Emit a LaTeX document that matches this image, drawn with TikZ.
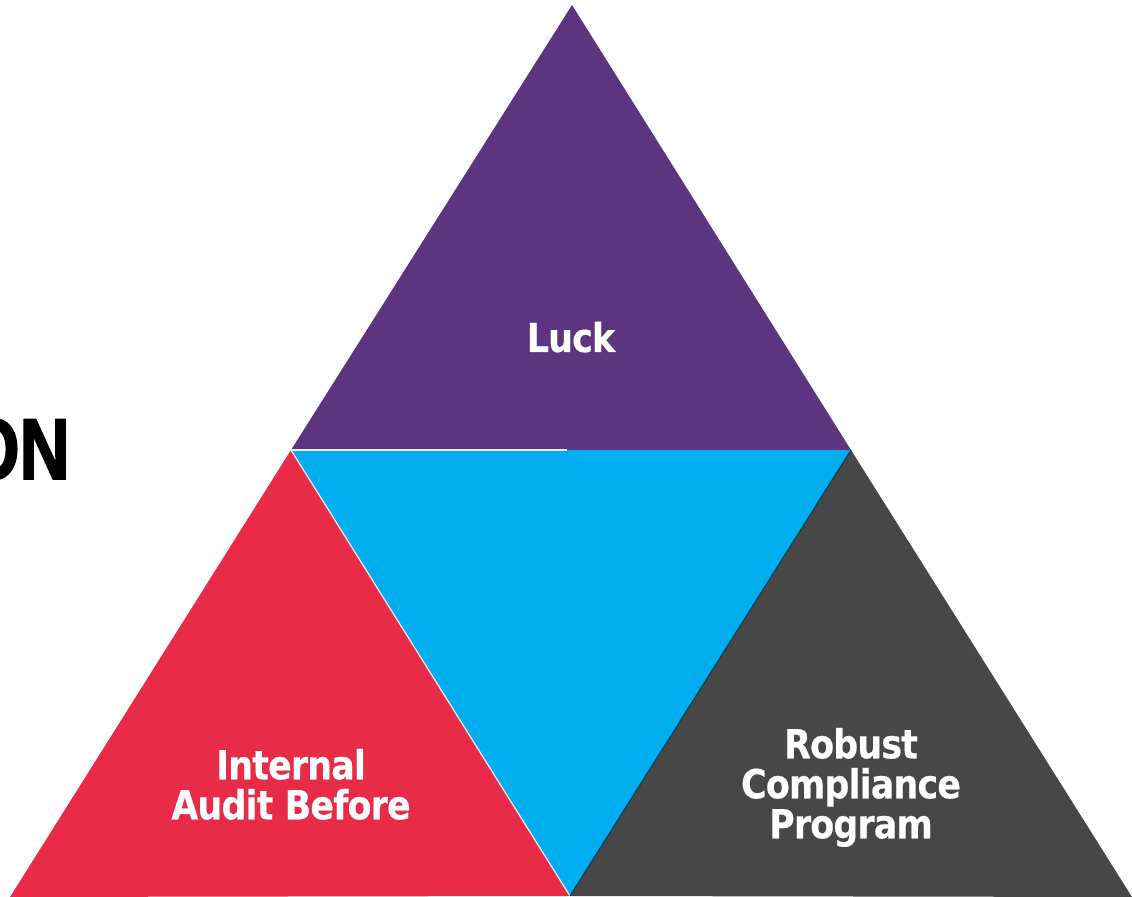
\documentclass[tikz,border=0pt]{standalone}
\usepackage{fontspec}
\usepackage{xcolor}
\usepackage{tikz}
\usetikzlibrary{calc}

\newfontfamily\labelfont{DejaVu Sans}[FakeStretch=0.87,LetterSpace=-2,FakeBold=0.4]
\newfontfamily\headfont{Liberation Sans}[FakeStretch=0.8,FakeBold=2]

\definecolor{lckpurple}{RGB}{92,52,128}
\definecolor{midblue}{RGB}{0,174,239}
\definecolor{audred}{RGB}{232,44,72}
\definecolor{rcpgray}{RGB}{71,71,71}

\begin{document}
\begin{tikzpicture}[
  x=0.5pt, y=-0.5pt,
  piece/.style={draw=none},
  seam/.style={line width=0.6pt},
  label/.style={font=\labelfont\bfseries\fontsize{20}{20}\selectfont, text=white, align=center, inner sep=0pt},
  head/.style={font=\headfont\bfseries\fontsize{43.3}{44}\selectfont, text=black, inner sep=0pt}
]
\useasboundingbox (0,0) rectangle (1132,897);

% corner points of the big triangle and its side midpoints
\coordinate (top) at (572,5);
\coordinate (lmid) at (291,450);
\coordinate (rmid) at (851,450);
\coordinate (bl) at (10,897);
\coordinate (bm) at (570,896);
\coordinate (br) at (1132,897);

\fill[piece, midblue] (lmid) -- (rmid) -- (bm) -- cycle;
\fill[piece, lckpurple] (top) -- (rmid) -- (lmid) -- cycle;
\fill[piece, audred] (lmid) -- (bm) -- (bl) -- cycle;
\fill[piece, rcpgray] (rmid) -- (br) -- (bm) -- cycle;

% thin seams between the pieces
\draw[seam, white!85!gray] (lmid) -- (567,450);
\draw[seam, white!85!gray] (lmid) -- (bm);
\draw[seam, black!60!midblue] (rmid) -- (bm);

\node[label, anchor=base] (luck) at (571,352) {Luck};
\node[label, anchor=north] (audit) at (291,748.5) {Internal\\Audit Before};
\node[label, anchor=north] (robust) at (851,727.5) {Robust\\Compliance\\Program};

\node[head, anchor=base east] (title) at (70,479) {ON};

\end{tikzpicture}
\end{document}
